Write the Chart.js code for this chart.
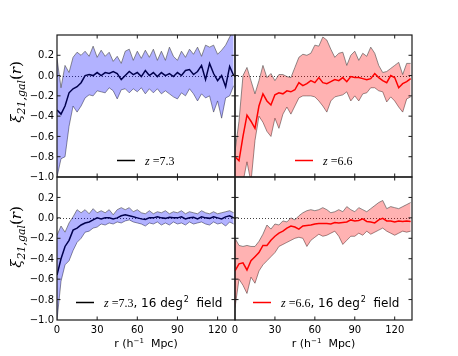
<!DOCTYPE html>
<html>
<head>
<meta charset="utf-8">
<script src="https://cdn.jsdelivr.net/npm/chart.js@4.4.1/dist/chart.umd.min.js"></script>
<style>
  html, body { margin: 0; padding: 0; background: #fff; }
  #wrap { position: relative; width: 458px; height: 356px; }
  #wrap canvas { position: absolute; left: 0; top: 0; }
</style>
</head>
<body>
<div id="wrap">
  <canvas id="panel-tl" width="458" height="356"></canvas>
  <canvas id="panel-tr" width="458" height="356"></canvas>
  <canvas id="panel-bl" width="458" height="356"></canvas>
  <canvas id="panel-br" width="458" height="356"></canvas>
</div>
<script>
// separation r in h^-1 Mpc
const rVals = [0, 3, 6, 9, 12, 15, 18, 21, 24, 27, 30, 33, 36, 39, 42, 45, 48, 51, 54, 57, 60, 63,
  66, 69, 72, 75, 78, 81, 84, 87, 90, 93, 96, 99, 102, 105, 108, 111, 114, 117, 120, 123, 126, 129, 132];

// z = 7.3 (top left)
const tlMean = [-0.34, -0.38, -0.30, -0.17, -0.13, -0.11, -0.07, 0.00, 0.01, 0.00, 0.03, 0.00, 0.03, 0.02, 0.04, 0.02, -0.04, 0.00, 0.04, 0.01, 0.03, -0.01,
  0.05, 0.00, 0.03, -0.01, 0.03, 0.00, 0.02, -0.01, 0.03, 0.00, 0.05, 0.06, 0.01, 0.04, 0.10, -0.04, 0.12, 0.02, -0.05, 0.00, -0.11, 0.09, 0.00];
const tlHigh = [0.17, -0.12, 0.10, 0.03, 0.18, 0.23, 0.20, 0.24, 0.19, 0.29, 0.18, 0.25, 0.19, 0.23, 0.14, 0.19, 0.12, 0.24, 0.26, 0.15, 0.24, 0.17,
  0.25, 0.18, 0.26, 0.15, 0.24, 0.15, 0.28, 0.19, 0.15, 0.24, 0.18, 0.26, 0.21, 0.28, 0.19, 0.30, 0.28, 0.30, 0.21, 0.25, 0.30, 0.38, 0.45];
const tlLow = [-1.00, -0.82, -0.80, -0.50, -0.30, -0.36, -0.30, -0.22, -0.19, -0.20, -0.15, -0.16, -0.17, -0.12, -0.15, -0.23, -0.14, -0.13, -0.17, -0.13, -0.16, -0.12,
  -0.18, -0.13, -0.17, -0.13, -0.18, -0.15, -0.18, -0.21, -0.23, -0.17, -0.20, -0.13, -0.18, -0.25, -0.18, -0.22, -0.20, -0.36, -0.25, -0.42, -0.22, -0.20, -0.10];

// z = 6.6 (top right)
const trMean = [-0.80, -0.84, -0.60, -0.39, -0.45, -0.52, -0.30, -0.18, -0.25, -0.29, -0.19, -0.17, -0.18, -0.15, -0.16, -0.14, -0.07, -0.10, -0.08, -0.05, -0.07, -0.02,
  -0.07, -0.08, -0.06, -0.04, -0.05, -0.02, -0.06, -0.01, -0.02, -0.02, -0.03, -0.04, -0.03, 0.02, -0.02, -0.05, -0.07, 0.00, -0.02, -0.12, -0.08, -0.06, -0.03];
const trHigh = [-0.75, -0.45, 0.00, 0.08, -0.05, -0.18, -0.05, 0.10, -0.02, 0.02, -0.05, 0.01, 0.01, -0.01, -0.02, 0.08, 0.18, 0.21, 0.20, 0.22, 0.30, 0.29,
  0.38, 0.35, 0.26, 0.18, 0.22, 0.23, 0.10, 0.20, 0.24, 0.15, 0.22, 0.19, 0.28, 0.22, 0.10, 0.03, 0.04, 0.07, 0.10, 0.13, 0.01, 0.12, 0.12];
const trLow = [-1.00, -1.05, -1.05, -0.85, -1.05, -0.64, -0.40, -0.46, -0.55, -0.60, -0.42, -0.52, -0.38, -0.31, -0.38, -0.30, -0.22, -0.20, -0.20, -0.20, -0.21, -0.25,
  -0.30, -0.36, -0.25, -0.21, -0.20, -0.19, -0.16, -0.25, -0.20, -0.25, -0.18, -0.17, -0.12, -0.12, -0.15, -0.16, -0.26, -0.21, -0.25, -0.31, -0.36, -0.23, -0.21];

// z = 7.3, 16 deg^2 field (bottom left)
const blMean = [-0.56, -0.40, -0.28, -0.22, -0.12, -0.10, -0.07, -0.05, -0.04, -0.02, 0.00, -0.01, 0.00, 0.00, -0.01, 0.00, 0.02, 0.03, 0.02, 0.01, 0.00, -0.01,
  -0.015, 0.00, 0.00, 0.01, 0.00, -0.005, 0.005, 0.00, 0.00, 0.01, -0.01, 0.00, 0.005, -0.01, 0.01, 0.00, -0.005, 0.01, 0.00, -0.01, 0.01, 0.02, 0.00];
const blHigh = [-0.17, -0.08, -0.14, -0.05, 0.01, 0.08, 0.05, 0.08, 0.04, 0.09, 0.05, 0.07, 0.05, 0.08, 0.03, 0.08, 0.10, 0.08, 0.10, 0.06, 0.08, 0.05,
  0.04, 0.07, 0.04, 0.06, 0.05, 0.07, 0.04, 0.06, 0.05, 0.07, 0.04, 0.06, 0.05, 0.04, 0.07, 0.05, 0.04, 0.06, 0.04, 0.05, 0.06, 0.07, 0.05];
const blLow = [-1.00, -0.62, -0.46, -0.42, -0.32, -0.24, -0.20, -0.14, -0.13, -0.10, -0.09, -0.06, -0.07, -0.05, -0.06, -0.04, -0.05, -0.03, -0.02, -0.04, -0.05, -0.06,
  -0.08, -0.05, -0.06, -0.04, -0.07, -0.05, -0.07, -0.04, -0.06, -0.05, -0.07, -0.04, -0.06, -0.05, -0.04, -0.06, -0.07, -0.04, -0.06, -0.05, -0.08, -0.04, -0.06];

// z = 6.6, 16 deg^2 field (bottom right)
const brMean = [-0.52, -0.45, -0.44, -0.51, -0.42, -0.38, -0.34, -0.27, -0.27, -0.22, -0.18, -0.15, -0.13, -0.10, -0.08, -0.09, -0.11, -0.08, -0.075, -0.07, -0.06, -0.055,
  -0.055, -0.055, -0.06, -0.045, -0.05, -0.045, -0.04, -0.02, -0.03, -0.025, -0.01, -0.035, -0.04, -0.05, -0.02, -0.005, -0.03, -0.03, -0.04, -0.03, -0.035, -0.03, -0.035];
const brHigh = [-0.20, -0.27, -0.28, -0.27, -0.28, -0.28, -0.23, -0.16, -0.07, -0.11, -0.06, -0.07, -0.03, -0.04, 0.00, -0.02, 0.02, 0.05, 0.07, 0.08, 0.07, 0.08,
  0.10, 0.08, 0.05, 0.06, 0.08, 0.06, 0.11, 0.08, 0.06, 0.10, 0.08, 0.06, 0.09, 0.12, 0.15, 0.17, 0.09, 0.11, 0.10, 0.09, 0.11, 0.13, 0.15];
const brLow = [-0.88, -0.60, -0.66, -0.74, -0.58, -0.64, -0.52, -0.46, -0.42, -0.38, -0.34, -0.28, -0.26, -0.24, -0.22, -0.20, -0.19, -0.20, -0.28, -0.22, -0.19, -0.16,
  -0.18, -0.17, -0.15, -0.13, -0.18, -0.26, -0.22, -0.18, -0.18, -0.15, -0.17, -0.13, -0.16, -0.14, -0.12, -0.10, -0.13, -0.15, -0.17, -0.15, -0.13, -0.14, -0.13];

const zLabels = ['7.3', '6.6', '7.3', '6.6'];
const fieldText = '16 deg';

const edgeGrey = 'rgba(70,70,70,0.6)';

function pts(vals) {
  return rVals.map((r, i) => ({ x: r, y: vals[i] }));
}

function fmtY(v) {
  if (Math.abs(v) < 1e-9) return '0.0';
  return v.toFixed(1).replace('-', '\u2212');
}

// frame, inward ticks, zero line, legend and axis labels (matplotlib look)
const panelDecor = {
  id: 'panelDecor',
  beforeDatasetsDraw(chart) {
    const { ctx, chartArea: a } = chart;
    const y0 = chart.scales.y.getPixelForValue(0);
    ctx.save();
    ctx.strokeStyle = 'rgba(0,0,0,0.75)';
    ctx.lineWidth = 1;
    ctx.setLineDash([1, 2]);
    ctx.beginPath();
    ctx.moveTo(a.left, Math.round(y0) + 0.5);
    ctx.lineTo(a.right, Math.round(y0) + 0.5);
    ctx.stroke();
    ctx.restore();
  },
  afterDraw(chart, args, opts) {
    const { ctx, chartArea: a, scales: { x, y } } = chart;
    ctx.save();
    ctx.strokeStyle = '#1a1a1a';
    ctx.lineWidth = 1.2;
    ctx.strokeRect(a.left, a.top, a.right - a.left, a.bottom - a.top);

    // inward tick marks on all four sides
    const tl = 3.5;
    ctx.lineWidth = 1;
    ctx.beginPath();
    x.ticks.forEach(t => {
      const px = x.getPixelForValue(t.value);
      if (px <= a.left + 1 || px >= a.right - 1) return;
      ctx.moveTo(px, a.bottom); ctx.lineTo(px, a.bottom - tl);
      ctx.moveTo(px, a.top); ctx.lineTo(px, a.top + tl);
    });
    y.ticks.forEach(t => {
      const py = y.getPixelForValue(t.value);
      if (py <= a.top + 1 || py >= a.bottom - 1) return;
      ctx.moveTo(a.left, py); ctx.lineTo(a.left + tl, py);
      ctx.moveTo(a.right, py); ctx.lineTo(a.right - tl, py);
    });
    ctx.stroke();

    ctx.fillStyle = '#000';

    // y tick labels (left column only)
    if (opts.yLabels) {
      ctx.font = '10px "DejaVu Sans"';
      ctx.textAlign = 'right';
      ctx.textBaseline = 'middle';
      y.ticks.forEach(t => {
        if (t.value > 0.3) return;
        ctx.fillText(fmtY(t.value), a.left - 3, y.getPixelForValue(t.value) + 0.5);
      });
    }

    // legend: short line + "z=..." (+ field text)
    const lg = opts.legend;
    const ly = a.top + lg.y;
    let tx = a.left + lg.x;
    ctx.strokeStyle = lg.color;
    ctx.lineWidth = 1.5;
    ctx.beginPath();
    ctx.moveTo(tx, ly); ctx.lineTo(tx + 18, ly);
    ctx.stroke();
    tx += 28;
    const by = ly + 4;
    ctx.textBaseline = 'alphabetic';
    ctx.textAlign = 'left';
    ctx.font = 'italic 12px "Liberation Serif"';
    ctx.fillText('z', tx, by);
    tx += ctx.measureText('z').width + 3;
    ctx.font = '12px "Liberation Serif"';
    const zt = '=' + lg.z;
    ctx.fillText(zt, tx, by);
    tx += ctx.measureText(zt).width;
    if (lg.field) {
      ctx.font = '12px "DejaVu Sans"';
      const f1 = ', ' + fieldText;
      ctx.fillText(f1, tx, by);
      tx += ctx.measureText(f1).width + 1;
      ctx.font = '8px "DejaVu Sans"';
      ctx.fillText('2', tx, by - 5);
      tx += ctx.measureText('2').width;
      ctx.font = '12px "DejaVu Sans"';
      ctx.fillText('  field', tx, by);
    }

    // x label  r (h^-1 Mpc)
    if (opts.xlabel) {
      const parts = [
        { t: 'r (h', f: '11px "DejaVu Sans"', dy: 0 },
        { t: '\u22121', f: '7px "DejaVu Sans"', dy: -4.5 },
        { t: '  Mpc)', f: '11px "DejaVu Sans"', dy: 0 }
      ];
      let w = 0;
      parts.forEach(p => { ctx.font = p.f; p.w = ctx.measureText(p.t).width; w += p.w; });
      let px = (a.left + a.right) / 2 - w / 2;
      parts.forEach(p => {
        ctx.font = p.f;
        ctx.fillText(p.t, px, 347 + p.dy);
        px += p.w;
      });
    }

    // y label  xi_{21,gal}(r)
    if (opts.ylabelY) {
      const parts = [
        { t: '\u03BE', f: 'italic 15px "DejaVu Serif"', dy: 0 },
        { t: '21,gal', f: 'italic 11px "DejaVu Serif"', dy: 3.5 },
        { t: '(', f: '15px "DejaVu Serif"', dy: 0 },
        { t: 'r', f: 'italic 15px "DejaVu Serif"', dy: 0 },
        { t: ')', f: '15px "DejaVu Serif"', dy: 0 }
      ];
      let w = 0;
      parts.forEach(p => { ctx.font = p.f; p.w = ctx.measureText(p.t).width; w += p.w; });
      ctx.translate(21, opts.ylabelY);
      ctx.rotate(-Math.PI / 2);
      let px = -w / 2;
      parts.forEach(p => {
        ctx.font = p.f;
        ctx.fillText(p.t, px, p.dy);
        px += p.w;
      });
    }
    ctx.restore();
  }
};

function buildPanel(canvasId, p) {
  return new Chart(document.getElementById(canvasId), {
    type: 'line',
    data: {
      datasets: [
        { data: pts(p.high), borderColor: edgeGrey, borderWidth: 1, backgroundColor: p.fill, fill: '+1', pointRadius: 0, tension: 0 },
        { data: pts(p.low), borderColor: edgeGrey, borderWidth: 1, fill: false, pointRadius: 0, tension: 0 },
        { data: pts(p.mean), borderColor: p.line, borderWidth: 1.5, fill: false, pointRadius: 0, tension: 0 }
      ]
    },
    options: {
      responsive: false,
      animation: false,
      events: [],
      layout: { padding: p.pad },
      plugins: {
        legend: { display: false },
        tooltip: { enabled: false },
        panelDecor: { legend: p.legend, ylabelY: p.ylabelY, xlabel: p.showX, yLabels: p.showY }
      },
      scales: {
        x: {
          type: 'linear', min: 0, max: 133,
          grid: { display: false, drawTicks: false }, border: { display: false },
          ticks: {
            display: p.showX, stepSize: 30, includeBounds: false, autoSkip: false, maxRotation: 0,
            padding: 4, color: '#000', font: { family: 'DejaVu Sans', size: 10 }
          },
          afterFit: s => { s.height = p.showX ? 36 : 0; }
        },
        y: {
          min: -1, max: 0.4,
          grid: { display: false, drawTicks: false }, border: { display: false },
          ticks: { display: false, stepSize: 0.2, includeBounds: false, autoSkip: false },
          afterFit: s => { s.width = p.showY ? 57 : 0; }
        }
      }
    },
    plugins: [panelDecor]
  });
}

const blueFill = 'rgba(0,0,255,0.3)';
const redFill = 'rgba(255,0,0,0.3)';

buildPanel('panel-tl', {
  mean: tlMean, high: tlHigh, low: tlLow, fill: blueFill, line: '#000',
  pad: { left: 0, top: 35, right: 223, bottom: 179 }, showX: false, showY: true,
  legend: { x: 60, y: 125.5, color: '#000', z: zLabels[0], field: false }, ylabelY: 92
});
buildPanel('panel-tr', {
  mean: trMean, high: trHigh, low: trLow, fill: redFill, line: '#ff0000',
  pad: { left: 235, top: 35, right: 46, bottom: 179 }, showX: false, showY: false,
  legend: { x: 60, y: 125.5, color: '#ff0000', z: zLabels[1], field: false }, ylabelY: 0
});
buildPanel('panel-bl', {
  mean: blMean, high: blHigh, low: blLow, fill: blueFill, line: '#000',
  pad: { left: 0, top: 177, right: 223, bottom: 0 }, showX: true, showY: true,
  legend: { x: 19, y: 125.5, color: '#000', z: zLabels[2], field: true }, ylabelY: 237
});
buildPanel('panel-br', {
  mean: brMean, high: brHigh, low: brLow, fill: redFill, line: '#ff0000',
  pad: { left: 235, top: 177, right: 46, bottom: 0 }, showX: true, showY: false,
  legend: { x: 18, y: 125.5, color: '#ff0000', z: zLabels[3], field: true }, ylabelY: 0
});
</script>
</body>
</html>
